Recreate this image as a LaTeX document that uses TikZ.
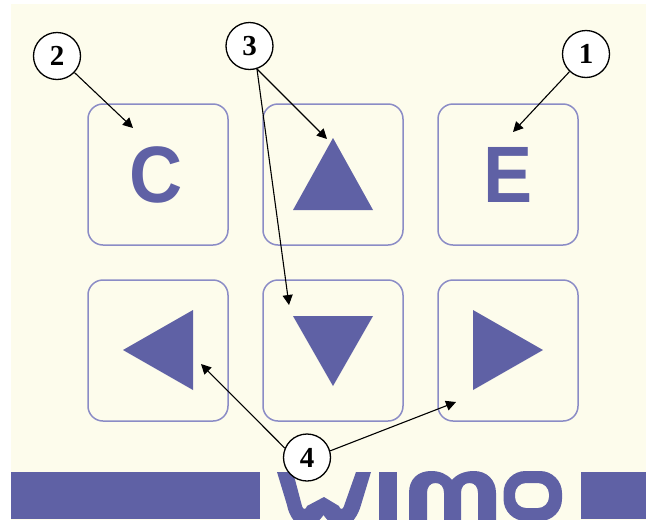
\documentclass[tikz,border=0pt]{standalone}
\usepackage{fontspec}
\setmainfont{Liberation Serif}
\setsansfont{Liberation Sans}
\usetikzlibrary{arrows.meta}
\definecolor{wimoblue}{HTML}{5F61A5}
\definecolor{wimoline}{HTML}{8B8CC6}
\definecolor{wimocream}{HTML}{FDFCEC}
\tikzset{
  keybox/.style={draw=wimoline, line width=1.5pt, rounded corners=15pt},
  keyshape/.style={fill=wimoblue},
  keyletter/.style={text=wimoblue, inner sep=0pt, font=\sffamily\bfseries\fontsize{80}{80}\selectfont},
  callout/.style={circle, draw=black, fill=white, line width=1.3pt, minimum size=47pt, inner sep=0pt, font=\bfseries\fontsize{29}{29}\selectfont},
  pointer/.style={draw=black, line width=1.1pt, -{Triangle[length=10pt,width=10pt]}}
}
\newcommand{\drawkey}[2]{%
\draw[keybox] (#1,#2) rectangle ++ (140,141);
}
\begin{document}
\begin{tikzpicture}[x=1pt,y=-1pt]
\useasboundingbox (0,0) rectangle (646,520);

\fill[wimocream] (11,4) rectangle (646,520);

\foreach \i in {88,263,438}
\foreach \j in {104,280}
{
\drawkey{\i}{\j}
}

\node[keyletter] (keyc) at (156.5,175) {\scalebox{0.92}[1]{C}};
\node[keyletter] (keye) at (508,175) {\scalebox{0.92}[1]{E}};

\fill[keyshape] (333,138) -- (373,210) -- (293,210) -- cycle;
\fill[keyshape] (293,316) -- (373,316) -- (333,386) -- cycle;
\fill[keyshape] (193,310) -- (193,390) -- (123,350) -- cycle;
\fill[keyshape] (473,310) -- (473,390) -- (543,350) -- cycle;

% bottom bar and logo
\fill[keyshape] (11,472) rectangle (260,519);
\fill[keyshape] (581,472) rectangle (646,519);

\begin{scope}
\clip (262,460) rectangle (580,519);
\fill[keyshape] (277,472) -- (293,472) -- (302,506) .. controls (303,510) and (306,510) .. (307,506)
  -- (324,497) -- (339,506) .. controls (340,510) and (343,510) .. (344,506) -- (356,472) -- (371,472)
  -- (361,505) .. controls (358,516) and (351,526) .. (343,526) .. controls (335,526) and (328,522) .. (323.5,515)
  .. controls (319,522) and (312,526) .. (304,526) .. controls (296,526) and (289,516) .. (287,505) -- cycle;
\fill[keyshape] (379,472) rectangle (397,520);
\fill[keyshape] (409,520) -- (409,493) .. controls (409,479) and (418,471) .. (431,471)
  .. controls (440,471) and (447,474) .. (452,480) .. controls (457,474) and (465,471) .. (474,471)
  .. controls (487,471) and (496,480) .. (496,493) -- (496,520) -- (478,520) -- (478,493)
  .. controls (478,487) and (475,483) .. (469.5,483) .. controls (464,483) and (461,487) .. (461,493)
  -- (461,520) -- (444,520) -- (444,493) .. controls (444,487) and (441,483) .. (435.5,483)
  .. controls (430,483) and (427,487) .. (427,493) -- (427,520) -- cycle;
\fill[keyshape, even odd rule] [rounded corners=22pt] (503.5,471) rectangle (562,521)
  [rounded corners=11pt] (515,483) rectangle (549,508);
\end{scope}

\node[callout] (num1) at (586,54) {1};
\node[callout] (num2) at (57,56) {2};
\node[callout] (num3) at (249.5,46) {3};
\node[callout] (num4) at (307,457.5) {4};

\coordinate (tipc) at (133,128);
\coordinate (tipe) at (513,132);
\coordinate (tipup) at (327,139);
\coordinate (tipdown) at (289,305);
\coordinate (tipleft) at (201,364);
\coordinate (tipright) at (456,402);

\draw[pointer] (num1) -- (tipe);
\draw[pointer] (num2) -- (tipc);
\draw[pointer] (num3.-72) -- (tipup);
\draw[pointer] (num3.-72) -- (tipdown);
\draw[pointer] (num4.157) -- (tipleft);
\draw[pointer] (num4.16) -- (tipright);

\end{tikzpicture}
\end{document}
